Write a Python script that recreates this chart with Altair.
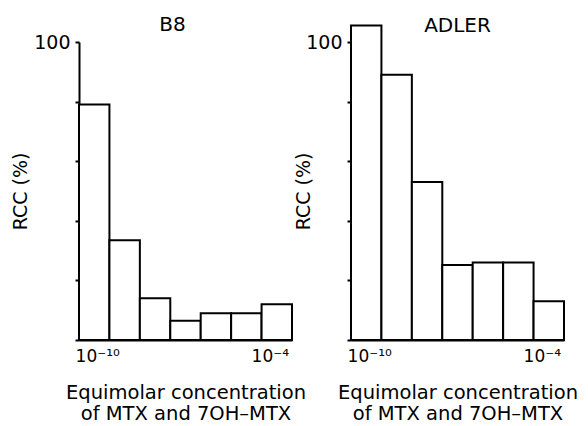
import altair as alt
import pandas as pd

exponents = [-10, -9, -8, -7, -6, -5, -4]
b8_rcc = [79, 33.5, 14, 6.5, 9, 9, 12]
adler_rcc = [105.5, 89, 53, 25.2, 26, 26, 13]
y_ticks = [0, 20, 40, 60, 80, 100]
x_tick_values = [-10, -4]
x_title = ["Equimolar concentration", "of MTX and 7OH\u2013MTX"]
y_title = "RCC (%)"
FONT = "DejaVu Sans"


def panel(name, values, title_dx, title_offset, ytitle_x):
    df = pd.DataFrame({"exp": exponents, "rcc": values})
    df["lo"] = df["exp"] - 0.5
    df["hi"] = df["exp"] + 0.5
    return (
        alt.Chart(df, title=alt.Title(name, dx=title_dx, offset=title_offset, fontSize=20, frame="group",
                                      baseline="alphabetic",
                                      font=FONT, fontWeight="normal", color="black"))
        .mark_bar(fill="white", stroke="black", strokeWidth=2)
        .encode(
            x=alt.X("lo:Q",
                    scale=alt.Scale(domain=[-10.5, -3.5], nice=False, zero=False),
                    axis=alt.Axis(values=x_tick_values,
                                  labelExpr="datum.value == -10 ? '10\u207b\u00b9\u2070' : '10\u207b\u2074'",
                                  labelOffset={"condition": {"test": "datum.value == -10", "value": 3}, "value": -7},
                                  ticks=False, grid=False, labelFontSize=17, labelPadding=8,
                                  title=x_title, titleFontSize=19.5, titlePadding=19,
                                  titleLineHeight=21)),
            x2="hi:Q",
            y=alt.Y("rcc:Q",
                    scale=alt.Scale(domain=[0, 100], nice=False),
                    axis=alt.Axis(values=y_ticks,
                                  labelExpr="datum.value == 100 ? '100' : ''",
                                  grid=False, tickSize=4, labelFontSize=19, labelPadding=5,
                                  title=y_title, titleFontSize=19, titleX=ytitle_x)),
            y2=alt.datum(0),
        )
        .properties(width=213, height=298)
    )


left = panel("B8", b8_rcc, -13, -18, -49)
right = panel("ADLER", adler_rcc, 0, -27, -38)

chart = (
    alt.hconcat(left, right, spacing=59, bounds="flush")
    .properties(padding={"left": 3, "top": 7, "right": 0, "bottom": 0})
    .configure_view(stroke=None)
    .configure_axis(domainColor="black", domainWidth=2, tickColor="black", tickWidth=2,
                    labelFont=FONT, titleFont=FONT, labelColor="black", titleColor="black",
                    titleFontWeight="normal")
)

chart.save("out.html", embed_options={"renderer": "svg", "actions": False})
